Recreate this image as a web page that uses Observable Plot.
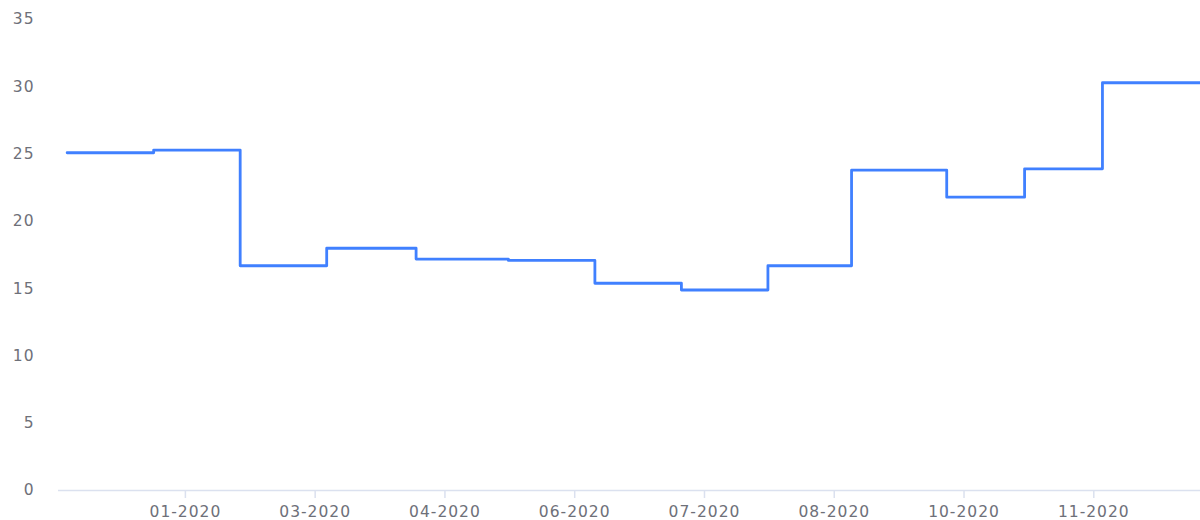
<!DOCTYPE html>
<html>
<head>
<meta charset="utf-8">
<script src="https://cdn.jsdelivr.net/npm/d3@7"></script>
<script src="https://cdn.jsdelivr.net/npm/@observablehq/plot@0.6"></script>
<style>
  html, body { margin: 0; padding: 0; background: #ffffff; }
  #chart { width: 1200px; height: 520px; }
</style>
</head>
<body>
<div id="chart"></div>
<script>
// Step series: date of each change and the value held from that date
const dates = [
  "2019-12-08", "2020-01-07", "2020-02-06", "2020-03-07", "2020-04-07",
  "2020-05-09", "2020-06-08", "2020-07-08", "2020-08-07", "2020-09-05",
  "2020-10-08", "2020-11-04", "2020-12-01", "2021-01-04"
];
const values = [
  25.1, 25.3, 16.7, 18.0, 17.2,
  17.1, 15.4, 14.9, 16.7, 23.8,
  21.8, 23.9, 30.3, 30.3
];
// Axis extent and tick labels
const xDomain = ["2019-12-05", "2021-01-04"];
const xTicks = [
  "2020-01-18", "2020-03-03", "2020-04-17", "2020-06-01",
  "2020-07-16", "2020-08-30", "2020-10-14", "2020-11-28"
];
const yTicks = [0, 5, 10, 15, 20, 25, 30, 35];

const parse = d3.utcParse("%Y-%m-%d");
const data = dates.map((d, i) => ({ date: parse(d), value: values[i] }));

const chart = Plot.plot({
  width: 1200,
  height: 520,
  marginLeft: 58,
  marginRight: 0,
  marginTop: 19,
  marginBottom: 30,
  style: {
    fontFamily: "'DejaVu Sans', sans-serif",
    fontSize: "15.5px",
    letterSpacing: "1px",
    color: "#6e7079",
    background: "#ffffff",
    overflow: "visible"
  },
  x: { type: "utc", domain: xDomain.map(parse) },
  y: { domain: [0, 35] },
  marks: [
    Plot.ruleY([0], { stroke: "#dbe1ef", strokeWidth: 1.5 }),
    Plot.axisX({
      ticks: xTicks.map(parse),
      tickFormat: d3.utcFormat("%m-%Y"),
      tickSize: 8,
      tickPadding: 7,
      stroke: "#dbe1ef",
      strokeWidth: 1.5,
      fill: "#6e7079",
      label: null
    }),
    Plot.axisY({
      ticks: yTicks,
      tickSize: 0,
      tickPadding: 24,
      fill: "#6e7079",
      label: null
    }),
    Plot.line(data, {
      x: "date",
      y: "value",
      curve: "step-after",
      stroke: "#4080ff",
      strokeWidth: 2.8
    })
  ]
});
document.getElementById("chart").appendChild(chart);
</script>
</body>
</html>
